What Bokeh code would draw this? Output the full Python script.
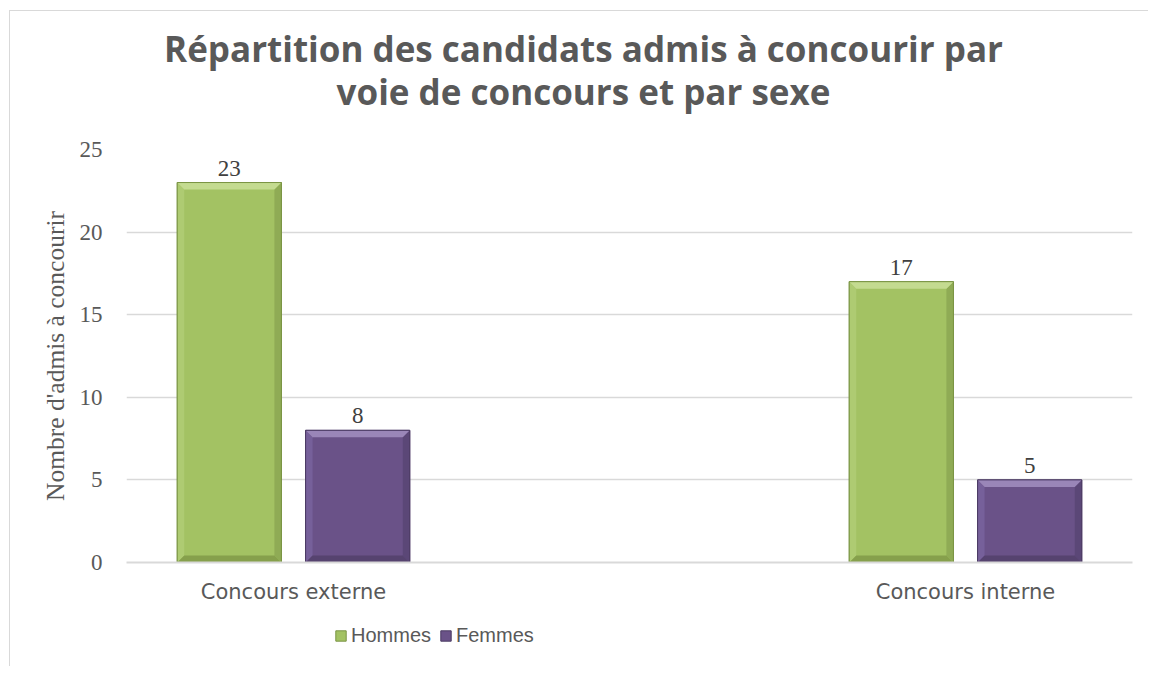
from bokeh.plotting import figure
from bokeh.models import (ColumnDataSource, Range1d, FixedTicker, Legend, LegendItem, Label)
from bokeh.layouts import column
from bokeh.embed import file_html
from bokeh.resources import INLINE
from bokeh.core.properties import value

# ---------------- data ----------------
categories = ["Concours externe", "Concours interne"]
series = ["Hommes", "Femmes"]
hommes = [23, 17]
femmes = [8, 5]
y_ticks = [0, 5, 10, 15, 20, 25]
title_lines = ["Répartition des candidats admis à concourir par",
               "voie de concours et par sexe"]
y_label = "Nombre d'admis à concourir"

# ---------------- styles ----------------
GREEN = dict(face="#A3C263", light="#C4DB90", side_l="#AECB72", side_r="#8FAB55",
             dark="#86A04C", line="#7A9444")
PURPLE = dict(face="#6A5288", light="#9A86B8", side_l="#76609A", side_r="#5B4777",
              dark="#56436F", line="#4B3A63")
TXT = "#595959"

W = 1138
HT = 125          # header (title) height
ML, MR, MT, MB = 116, 16, 13, 50
FW = W - ML - MR  # plot frame width (1006)
FH = 413          # plot frame height
H1 = MT + FH + MB
H2 = 655 - HT - H1


def blank(h):
    # frames of plots in a column are aligned with the main plot frame
    f = figure(width=W, height=h, x_range=Range1d(0, FW), y_range=Range1d(0, h),
               output_backend="svg", toolbar_location=None,
               x_axis_location=None, y_axis_location=None,
               min_border_left=ML, min_border_right=MR,
               min_border_top=0, min_border_bottom=0)
    f.grid.grid_line_color = None
    f.outline_line_color = None
    return f


# ---------------- title ----------------
head = blank(HT)
for line, yy in zip(title_lines, [HT - 37, HT - 80]):
    head.add_layout(Label(x=457, y=yy, text=line, text_align="center",
                          text_baseline="middle", text_font="Open Sans",
                          text_font_style="bold", text_font_size="35px",
                          text_color=TXT))

# ---------------- main plot ----------------
x_range = Range1d(-0.2485, 1.2485)
y_range = Range1d(0, 25)
p = figure(width=W, height=H1, x_range=x_range, y_range=y_range,
           output_backend="svg", toolbar_location=None,
           min_border_left=ML, min_border_right=MR,
           min_border_top=MT, min_border_bottom=MB)
p.outline_line_color = None

px_x = (x_range.end - x_range.start) / FW
px_y = (y_range.end - y_range.start) / FH
bev = 7
bx, by = bev * px_x, bev * px_y

bar_w = 0.155
offs = [-0.0955, 0.0955]
xs_cat = list(range(len(categories)))

for vals, off, col in [(hommes, offs[0], GREEN), (femmes, offs[1], PURPLE)]:
    xc = [x + off for x in xs_cat]
    src = ColumnDataSource(dict(x=xc, top=vals, lab=[str(v) for v in vals]))
    p.vbar(x="x", top="top", width=bar_w, source=src,
           fill_color=col["face"], line_color=col["line"], line_width=1)
    tops_x, tops_y, bot_x, bot_y, lx, ly, rx, ry = [], [], [], [], [], [], [], []
    for c, v in zip(xc, vals):
        l, rr = c - bar_w / 2, c + bar_w / 2
        tops_x.append([l, rr, rr - bx, l + bx]); tops_y.append([v, v, v - by, v - by])
        bot_x.append([l, rr, rr - bx, l + bx]); bot_y.append([0, 0, by, by])
        lx.append([l, l, l + bx, l + bx]); ly.append([0, v, v - by, by])
        rx.append([rr, rr, rr - bx, rr - bx]); ry.append([0, v, v - by, by])
    p.patches(lx, ly, fill_color=col["side_l"], line_color=None)
    p.patches(rx, ry, fill_color=col["side_r"], line_color=None)
    p.patches(bot_x, bot_y, fill_color=col["dark"], line_color=None)
    p.patches(tops_x, tops_y, fill_color=col["light"], line_color=None)
    p.vbar(x="x", top="top", width=bar_w, source=src, fill_color=None,
           line_color=col["line"], line_width=1)
    p.text(x="x", y="top", text="lab", source=src, text_align="center",
           text_baseline="bottom", y_offset=-7,
           text_font=value("Liberation Serif"), text_font_size="23px",
           text_color="#404040")

p.xgrid.grid_line_color = None
p.ygrid.ticker = FixedTicker(ticks=y_ticks)
p.ygrid.grid_line_color = "#D9D9D9"
p.ygrid.grid_line_width = 1.5

p.yaxis.ticker = FixedTicker(ticks=y_ticks)
p.yaxis.axis_line_color = None
p.yaxis.major_tick_line_color = None
p.yaxis.minor_tick_line_color = None
p.yaxis.major_label_standoff = 18
p.yaxis.major_label_text_font = "Liberation Serif"
p.yaxis.major_label_text_font_size = "23px"
p.yaxis.major_label_text_color = TXT
p.yaxis.axis_label = y_label
p.yaxis.axis_label_text_font = "Liberation Serif"
p.yaxis.axis_label_text_font_size = "25.5px"
p.yaxis.axis_label_text_font_style = "normal"
p.yaxis.axis_label_text_color = TXT
p.yaxis.axis_label_standoff = 7

p.xaxis.ticker = FixedTicker(ticks=xs_cat)
p.xaxis.major_label_overrides = {i: c for i, c in enumerate(categories)}
p.xaxis.axis_line_color = "#D9D9D9"
p.xaxis.axis_line_width = 2
p.xaxis.major_tick_line_color = None
p.xaxis.minor_tick_line_color = None
p.xaxis.major_label_standoff = 11
p.xaxis.major_label_text_font = "DejaVu Sans"
p.xaxis.major_label_text_font_size = "21px"
p.xaxis.major_label_text_color = TXT

# ---------------- legend ----------------
lg = blank(H2)
lrs = []
for col in (GREEN, PURPLE):
    # zero-size placeholder glyphs: only their style is used by the legend swatches
    lrs.append(lg.vbar(x=[0], top=[0], width=0, fill_color=col["face"],
                       line_color=col["line"]))
legend = Legend(items=[LegendItem(label=s, renderers=[r]) for s, r in zip(series, lrs)],
                orientation="horizontal", location=(208, H2 - 17 - 18),
                glyph_width=13, glyph_height=13, label_standoff=4, spacing=8,
                padding=6, margin=0, border_line_color=None, background_fill_alpha=0,
                label_text_font="Liberation Sans", label_text_font_size="20px",
                label_text_color=TXT)
lg.add_layout(legend, "center")

layout = column(head, p, lg, spacing=0)
layout.margin = (10, 0, 0, 9)
layout.styles = {"border-top": "1px solid #D9D9D9", "border-left": "1px solid #D9D9D9"}

open("out.html", "w").write(file_html(layout, INLINE))
